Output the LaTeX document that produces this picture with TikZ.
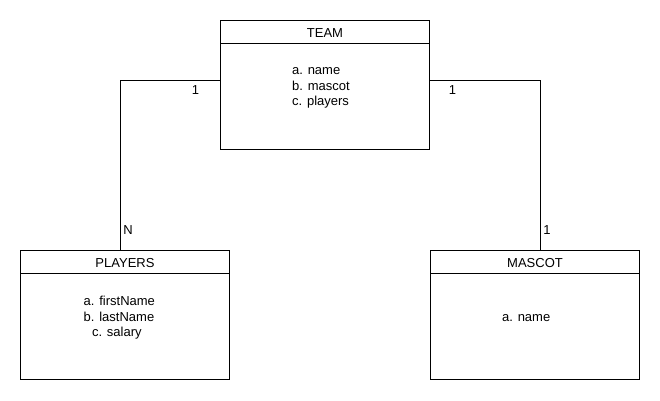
\documentclass[tikz,border=0pt]{standalone}
\usepackage{fontspec}
\setmainfont{Liberation Sans}
\begin{document}
\begin{tikzpicture}[x=1pt,y=-1pt,line width=0.8pt,
  entity/.style={draw,rectangle,minimum width=208.6pt,minimum height=128.3pt,inner sep=0pt},
  title/.style={inner sep=0pt,font=\fontsize{13}{15}\selectfont},
  attr/.style={inner sep=0pt,anchor=west,align=left,font=\fontsize{13}{15.6}\selectfont},
  card/.style={inner sep=0pt,font=\fontsize{13}{15}\selectfont}]
\useasboundingbox (0,0) rectangle (660,400);

\node[entity] (team) at (325,84.85) {};
\node[entity] (players) at (125,314.85) {};
\node[entity] (mascot) at (535,314.85) {};

\draw ([yshift=-22.6pt]team.north west) -- ([yshift=-22.6pt]team.north east);
\draw ([yshift=-22.6pt]players.north west) -- ([yshift=-22.6pt]players.north east);
\draw ([yshift=-22.6pt]mascot.north west) -- ([yshift=-22.6pt]mascot.north east);

\node[title] (teamT) at ([yshift=-12.3pt]team.north) {TEAM};
\node[title] (playersT) at ([yshift=-12.3pt]players.north) {PLAYERS};
\node[title] (mascotT) at ([yshift=-12.3pt]mascot.north) {MASCOT};

\node[attr] (teamA) at ([xshift=-33.3pt,yshift=-3pt]team.center) {a. name\\b. mascot\\c. players};
\node[attr] (playersA) at ([xshift=-41.7pt,yshift=-3pt]players.center) {a. firstName\\b. lastName\\\hspace{8.3pt}c. salary};
\node[attr] (mascotA) at ([xshift=-33.3pt,yshift=-3.5pt]mascot.center) {a. name};

\draw ([yshift=4.2pt]team.west) -| ([xshift=-4.3pt]players.north);
\draw ([yshift=4.2pt]team.east) -| ([xshift=5.3pt]mascot.north);

\node[card] (c1) at ([xshift=-24.7pt,yshift=-5pt]team.west) {1};
\node[card] (c2) at ([xshift=3pt,yshift=20.7pt]players.north) {N};
\node[card] (c3) at ([xshift=22.7pt,yshift=-5pt]team.east) {1};
\node[card] (c4) at ([xshift=12pt,yshift=20.7pt]mascot.north) {1};
\end{tikzpicture}
\end{document}
